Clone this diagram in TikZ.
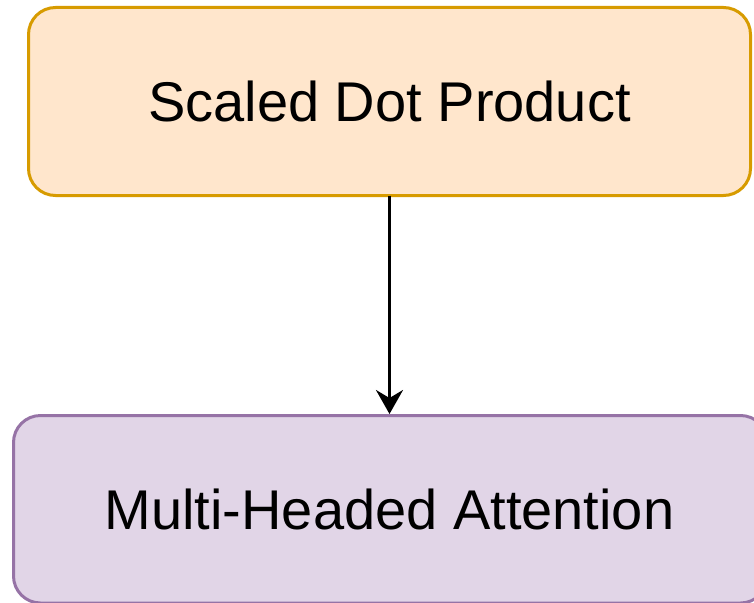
\documentclass[tikz,border=0pt]{standalone}
\usepackage{fontspec}
\setmainfont{Liberation Sans}
\usetikzlibrary{arrows.meta}
\definecolor{orangefill}{HTML}{FFE6CC}
\definecolor{orangeline}{HTML}{D79B00}
\definecolor{purplefill}{HTML}{E1D5E7}
\definecolor{purpleline}{HTML}{9673A6}
\tikzset{
  block/.style={rounded corners=27pt, line width=3pt, inner sep=0pt,
    font=\fontsize{56}{60}\selectfont},
  flow/.style={line width=3pt, -{Stealth[length=24pt, width=27pt, inset=8pt]}}
}
\begin{document}
\begin{tikzpicture}[x=1pt,y=-1pt]
  \useasboundingbox (0,0) rectangle (754,602);
  \clip (0,0) rectangle (754,602);
  % upper block
  \draw[block, fill=orangefill, draw=orangeline] (28.5,7.5) rectangle (750.5,195.5);
  \node[font=\fontsize{56}{60}\selectfont] (sdp) at (389.5,101.5) {Scaled Dot Product};
  \coordinate (sdpB) at (389.5,195.5);
  % lower block
  \draw[block, fill=purplefill, draw=purpleline] (13.5,415.5) rectangle (767.5,603);
  \node[font=\fontsize{56}{60}\selectfont] (mha) at (389.5,509) {Multi-Headed Attention};
  \coordinate (mhaT) at (389.5,414);
  \draw[flow] (sdpB) -- (mhaT);
\end{tikzpicture}
\end{document}
